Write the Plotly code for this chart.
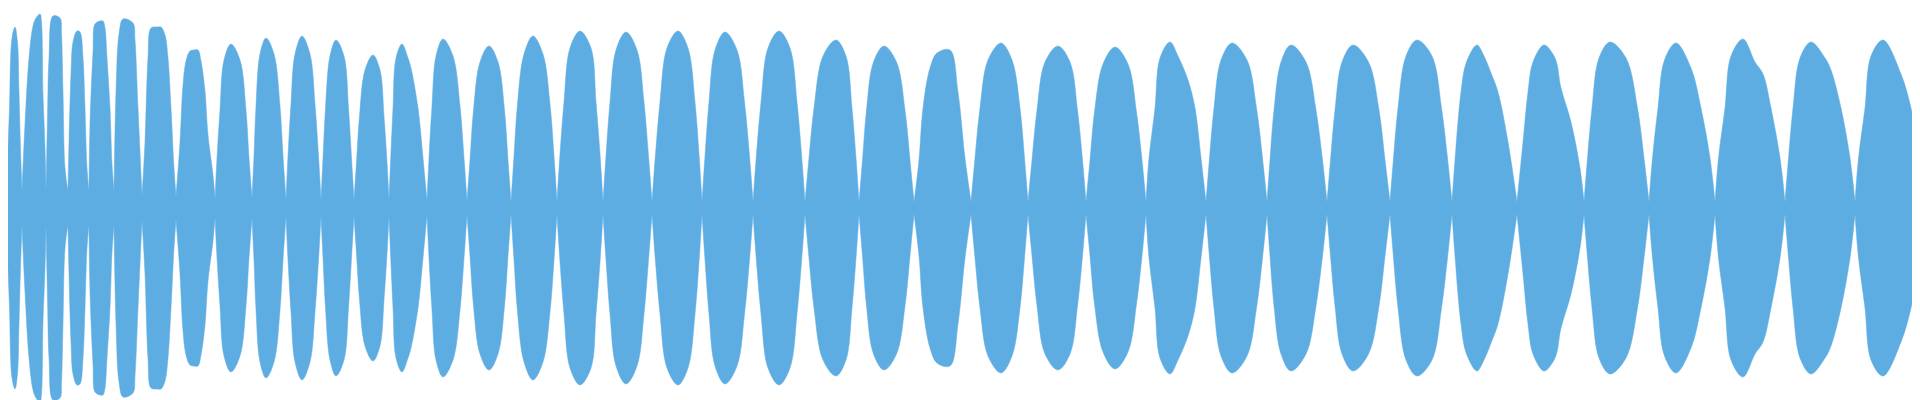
import plotly.graph_objects as go

# ---- Waveform envelope (x = sample column, y = normalised amplitude) ----
node_x = [0, 14, 38, 60, 81, 106, 134, 168, 207, 244, 278, 313, 346, 381, 419, 459, 503,
          549, 595, 644, 694, 745, 797, 851, 906, 963, 1020, 1078, 1138, 1198, 1259, 1319,
          1382, 1444, 1509, 1576, 1641, 1707, 1777, 1847, 1918]
node_amp = [0.30, 0.085, 0.085, 0.085, 0.085, 0.085, 0.06, 0.06, 0.045, 0.05, 0.04, 0.04,
            0.04, 0.04, 0.035, 0.035, 0.03, 0.03, 0.03, 0.03, 0.03, 0.03, 0.03, 0.03, 0.03,
            0.03, 0.03, 0.03, 0.03, 0.03, 0.03, 0.03, 0.03, 0.03, 0.03, 0.03, 0.03, 0.03,
            0.03, 0.03, 0.02]
peak_x = [7, 32, 45, 69, 92, 115, 149, 186, 223, 258, 294, 328, 365, 394, 435, 481, 525,
          572, 618, 670, 717, 771, 828, 876, 942, 993, 1050, 1107, 1162, 1224, 1283, 1345,
          1409, 1469, 1536, 1602, 1668, 1735, 1803, 1875]
peak_amp = [0.905, 0.97, 0.96, 0.885, 0.935, 0.945, 0.905, 0.79, 0.82, 0.85, 0.86, 0.84,
            0.765, 0.82, 0.845, 0.81, 0.86, 0.885, 0.88, 0.885, 0.88, 0.885, 0.84, 0.81,
            0.79, 0.825, 0.81, 0.805, 0.83, 0.825, 0.815, 0.815, 0.84, 0.815, 0.815, 0.83,
            0.825, 0.845, 0.83, 0.84]
# further envelope readings along the flanks of each lobe (x, amplitude)
flank_x = [1.5, 4, 9.5, 11, 12.5,
           17, 21, 25, 28, 33.5, 35, 37,
           39.5, 41, 52, 53.5, 55, 57,
           61, 63, 65, 72, 75, 77, 79,
           82, 85, 87, 95, 97, 99, 102, 104,
           108, 111, 125, 127, 130,
           137, 140, 143, 153, 157, 160, 163, 166,
           172, 175, 178, 182, 190, 193, 197, 200, 205,
           209, 212, 216, 232, 238, 241,
           246, 248, 252, 266, 272, 275,
           280, 283, 287, 302, 307, 310.5,
           315, 317.5, 322, 336, 340.5, 343.5,
           348.5, 351.5, 357, 372, 376, 379,
           385, 388, 400, 403, 410, 415,
           421, 424, 428, 445, 452, 456,
           462, 465.5, 472, 490, 496.5, 500,
           506, 509.5, 516, 535, 542, 546,
           552, 556, 562, 583, 588, 592,
           598, 602, 608, 629, 636, 640.5,
           647.5, 652, 659, 680, 687, 691,
           697, 701, 707, 729, 736.5, 741.5,
           748.5, 753, 760, 782, 789, 793.5,
           801, 806, 815, 838, 844, 848,
           854.5, 858.5, 865.5, 888.5, 897, 902,
           911, 915, 922, 929, 950, 957,
           967, 972, 980, 1004, 1012, 1016.5,
           1024, 1029, 1037, 1062, 1069.5, 1074.5,
           1082, 1086.5, 1095, 1120, 1128.5, 1134,
           1141, 1147, 1152, 1170, 1180, 1187, 1193,
           1201.5, 1206, 1213, 1239, 1248.5, 1254.5,
           1262, 1266, 1273, 1298, 1308, 1314.5,
           1322.5, 1327, 1334, 1360.5, 1371, 1377,
           1385.5, 1390, 1398, 1424, 1433.5, 1439.5,
           1447, 1453, 1458.5, 1476, 1483, 1490, 1500,
           1515, 1520, 1525, 1547, 1553, 1563, 1572,
           1579.5, 1584, 1591, 1618, 1629.5, 1636,
           1644.5, 1650, 1656.5, 1683, 1693, 1702,
           1710.5, 1717, 1723, 1747, 1755, 1763, 1772,
           1780.5, 1785, 1792, 1817, 1823, 1833, 1842,
           1850.5, 1857, 1863, 1893, 1903, 1912]
flank_amp = [0.5, 0.85, 0.83, 0.58, 0.3,
             0.42, 0.75, 0.91, 0.95, 0.93, 0.57, 0.3,
             0.45, 0.75, 0.95, 0.87, 0.58, 0.2,
             0.33, 0.67, 0.83, 0.88, 0.75, 0.5, 0.2,
             0.42, 0.78, 0.92, 0.935, 0.9, 0.75, 0.5, 0.22,
             0.58, 0.87, 0.925, 0.84, 0.5,
             0.33, 0.75, 0.9, 0.905, 0.865, 0.75, 0.5, 0.2,
             0.33, 0.615, 0.735, 0.785, 0.79, 0.735, 0.585, 0.365, 0.165,
             0.25, 0.49, 0.74, 0.74, 0.49, 0.25,
             0.26, 0.51, 0.77, 0.77, 0.51, 0.26,
             0.26, 0.52, 0.77, 0.77, 0.52, 0.26,
             0.25, 0.50, 0.76, 0.76, 0.50, 0.25,
             0.23, 0.46, 0.69, 0.69, 0.46, 0.23,
             0.5, 0.75, 0.75, 0.70, 0.5, 0.25,
             0.25, 0.51, 0.76, 0.76, 0.51, 0.25,
             0.24, 0.49, 0.73, 0.73, 0.49, 0.24,
             0.26, 0.52, 0.77, 0.77, 0.52, 0.26,
             0.27, 0.53, 0.80, 0.80, 0.53, 0.27,
             0.26, 0.53, 0.79, 0.79, 0.53, 0.26,
             0.27, 0.53, 0.80, 0.80, 0.53, 0.27,
             0.26, 0.53, 0.79, 0.79, 0.53, 0.26,
             0.27, 0.53, 0.80, 0.80, 0.53, 0.27,
             0.25, 0.50, 0.76, 0.76, 0.50, 0.25,
             0.24, 0.49, 0.73, 0.73, 0.49, 0.24,
             0.24, 0.5, 0.7, 0.775, 0.58, 0.25,
             0.25, 0.50, 0.74, 0.74, 0.50, 0.25,
             0.24, 0.49, 0.73, 0.73, 0.49, 0.24,
             0.24, 0.48, 0.72, 0.72, 0.48, 0.24,
             0.25, 0.5, 0.75, 0.76, 0.64, 0.5, 0.25,
             0.25, 0.50, 0.74, 0.74, 0.50, 0.25,
             0.24, 0.49, 0.73, 0.73, 0.49, 0.24,
             0.24, 0.49, 0.73, 0.73, 0.49, 0.24,
             0.25, 0.50, 0.76, 0.76, 0.50, 0.25,
             0.24, 0.58, 0.73, 0.76, 0.675, 0.58, 0.33,
             0.33, 0.58, 0.73, 0.75, 0.6, 0.43, 0.2,
             0.25, 0.50, 0.75, 0.75, 0.50, 0.25,
             0.25, 0.5, 0.74, 0.7, 0.5, 0.25,
             0.25, 0.5, 0.76, 0.73, 0.67, 0.5, 0.25,
             0.25, 0.50, 0.75, 0.75, 0.69, 0.5, 0.25,
             0.25, 0.5, 0.76, 0.67, 0.5, 0.25]
tail_x = 1919.5
tail_amp = 0.45

COLOR = "#5DADE2"

# ---- build the envelope, one segment per lobe ----
ux, uy = [], []
for i in range(len(peak_x)):
    x0, x1 = node_x[i], node_x[i + 1]
    pts = [(x0, node_amp[i]), (peak_x[i], peak_amp[i]), (x1, node_amp[i + 1])]
    pts += [(x, a) for x, a in zip(flank_x, flank_amp) if x0 < x < x1]
    pts.sort()
    for x, a in pts:
        ux.append(x)
        uy.append(a)
    ux.append(None)
    uy.append(None)

ly = [None if v is None else -v for v in uy]

fig = go.Figure()
for yy in (uy, ly):
    fig.add_trace(go.Scatter(
        x=ux, y=yy, mode="lines", fill="tozeroy", fillcolor=COLOR,
        line=dict(color=COLOR, width=0.5, shape="spline", smoothing=1.0),
        connectgaps=False, hoverinfo="skip", showlegend=False))
fig.add_trace(go.Scatter(
    x=[tail_x, tail_x], y=[-tail_amp, tail_amp], mode="lines",
    line=dict(color=COLOR, width=1), hoverinfo="skip", showlegend=False))

fig.update_layout(
    width=1920, height=400, margin=dict(l=0, r=0, t=0, b=0),
    paper_bgcolor="white", plot_bgcolor="white", showlegend=False,
    xaxis=dict(range=[0, 1920], visible=False, fixedrange=True),
    yaxis=dict(range=[-1, 1], visible=False, fixedrange=True),
)

fig.write_html("out.html", config={"displayModeBar": False})
